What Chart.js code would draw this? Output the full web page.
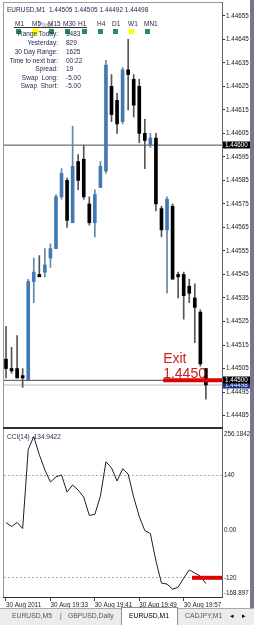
<!DOCTYPE html>
<html>
<head>
<meta charset="utf-8">
<title>EURUSD,M1</title>
<script src="https://cdn.jsdelivr.net/npm/chart.js@4.4.1/dist/chart.umd.min.js"></script>
<style>
  html, body { margin: 0; padding: 0; }
  body { width: 254px; height: 625px; overflow: hidden; position: relative; background: #fff;
         font-family: "Liberation Sans", Arial, sans-serif; color: #1e2448; }
  .a { position: absolute; white-space: nowrap; }
  .t { font-size: 6.5px; line-height: 7px; }
  .r { text-align: right; }
  .sq { position: absolute; width: 5px; height: 5px; top: 29px; background: #2e8b57; }
  .tab { position: absolute; top: 612px; font-size: 6.8px; line-height: 8px; color: #555; white-space: nowrap; }
</style>
</head>
<body>
<div class="a" style="left:0;top:0;width:254px;height:426px"><canvas id="priceChart"></canvas></div>
<div class="a" style="left:0;top:428px;width:254px;height:182px"><canvas id="cciChart"></canvas></div>

<!-- window frame -->
<div class="a" style="left:3px;top:2px;width:219px;height:1px;background:#9a9a9a"></div>
<div class="a" style="left:3px;top:2px;width:1px;height:596px;background:#9a9a9a"></div>
<div class="a" style="left:222px;top:2px;width:1px;height:596px;background:#5d6272"></div>
<div class="a" style="left:3px;top:427px;width:220px;height:2px;background:#303030"></div>
<div class="a" style="left:3px;top:597px;width:220px;height:1px;background:#303030"></div>
<div class="a" style="left:250px;top:0;width:4px;height:608px;background:#7b7390"></div>

<!-- header and info panel -->
<div class="a t" style="left:7px;top:6px">EURUSD,M1&nbsp; 1.44505 1.44505 1.44492 1.44498</div>
<div class="sq" style="left:16px"></div>
<div class="a" style="left:32px;top:28px;width:7px;height:7px;border-radius:50%;background:#ffff00"></div>
<div class="sq" style="left:49px"></div>
<div class="sq" style="left:65px"></div>
<div class="sq" style="left:82px"></div>
<div class="sq" style="left:98px"></div>
<div class="sq" style="left:113px"></div>
<div class="sq" style="left:129px;background:#ffff00"></div>
<div class="sq" style="left:145px"></div>
<div class="a" style="left:14px;top:27px;width:73px;height:1px;background:#333"></div>
<div class="a t" style="left:15px;top:20px">M1</div>
<div class="a t" style="left:32px;top:20px">M5</div>
<div class="a t" style="left:38px;top:21px;color:#8a8a8a">Pivot</div>
<div class="a t" style="left:48px;top:20px">M15</div>
<div class="a t" style="left:63px;top:20px">M30</div>
<div class="a t" style="left:78px;top:20px">H1</div>
<div class="a t" style="left:97px;top:20px">H4</div>
<div class="a t" style="left:112px;top:20px">D1</div>
<div class="a t" style="left:128px;top:20px">W1</div>
<div class="a t" style="left:144px;top:20px">MN1</div>

<div class="a t r" style="left:0;width:58px;top:29.5px">Range Today:</div>
<div class="a t r" style="left:0;width:58px;top:38.5px">Yesterday:</div>
<div class="a t r" style="left:0;width:58px;top:47.5px">30 Day Range:</div>
<div class="a t r" style="left:0;width:58px;top:56.5px">Time to next bar:</div>
<div class="a t r" style="left:0;width:58px;top:65px">Spread:</div>
<div class="a t r" style="left:0;width:58px;top:73.5px">Swap&nbsp; Long:</div>
<div class="a t r" style="left:0;width:58px;top:81.5px">Swap&nbsp; Short:</div>
<div class="a t" style="left:66px;top:29.5px">1483</div>
<div class="a t" style="left:66px;top:38.5px">829</div>
<div class="a t" style="left:66px;top:47.5px">1625</div>
<div class="a t" style="left:66px;top:56.5px">00:22</div>
<div class="a t" style="left:66px;top:65px">19</div>
<div class="a t" style="left:66px;top:73.5px">-5.00</div>
<div class="a t" style="left:66px;top:81.5px">-5.00</div>

<div class="a t" style="left:7px;top:433px">CCI(14) -134.9422</div>

<!-- tabs -->
<div class="a" style="left:0;top:608px;width:254px;height:17px;background:#ececec;border-top:1px solid #a8a8a8"></div>
<div class="a" style="left:121px;top:607px;width:55px;height:18px;background:#fff;border:1px solid #8c8c8c;border-bottom:none"></div>
<div class="tab" style="left:12px">EURUSD,M5</div>
<div class="tab" style="left:60px">|</div>
<div class="tab" style="left:68px">GBPUSD,Daily</div>
<div class="tab" style="left:129px;color:#000">EURUSD,M1</div>
<div class="tab" style="left:185px">CADJPY,M1</div>
<div class="tab" style="left:230px;color:#000">&#9666;</div>
<div class="tab" style="left:242px;color:#000">&#9656;</div>

<script>
// EURUSD M1 bars, 30 Aug 2011
const times = ['19:25','19:26','19:27','19:28','19:29','19:30','19:31','19:32','19:33','19:34',
  '19:35','19:36','19:37','19:38','19:39','19:40','19:41','19:42','19:43','19:44',
  '19:45','19:46','19:47','19:48','19:49','19:50','19:51','19:52','19:53','19:54',
  '19:55','19:56','19:57','19:58','19:59','20:00','20:01'];

const opens = [1.44509,1.44505,1.44505,1.44502,1.44500,1.44542,1.44545,1.44546,1.44552,1.44556,
  1.44578,1.44585,1.44567,1.44593,1.44594,1.44575,1.44567,1.44582,1.44589,1.44625,
  1.44619,1.44610,1.44632,1.44628,1.44625,1.44605,1.44600,1.44603,1.44573,1.44564,
  1.44574,1.44545,1.44545,1.44540,1.44535,1.44529,1.44505];
const highs = [1.44523,1.44514,1.44519,1.44505,1.44543,1.44552,1.44553,1.44556,1.44558,1.44579,
  1.44590,1.44586,1.44608,1.44596,1.44600,1.44578,1.44581,1.44593,1.44636,1.44630,
  1.44622,1.44633,1.44645,1.44630,1.44628,1.44611,1.44605,1.44605,1.44574,1.44578,
  1.44575,1.44546,1.44546,1.44543,1.44541,1.44530,1.44505];
const lows = [1.44501,1.44503,1.44501,1.44497,1.44500,1.44533,1.44544,1.44544,1.44548,1.44556,
  1.44577,1.44565,1.44567,1.44581,1.44577,1.44566,1.44561,1.44582,1.44588,1.44610,
  1.44605,1.44609,1.44615,1.44612,1.44601,1.44590,1.44599,1.44572,1.44561,1.44537,
  1.44543,1.44535,1.44526,1.44533,1.44516,1.44506,1.44492];
const closes = [1.44505,1.44504,1.44501,1.44501,1.44542,1.44546,1.44544,1.44549,1.44556,1.44578,
  1.44588,1.44568,1.44591,1.44585,1.44578,1.44567,1.44579,1.44591,1.44634,1.44613,
  1.44609,1.44632,1.44630,1.44617,1.44605,1.44602,1.44603,1.44575,1.44564,1.44577,
  1.44543,1.44544,1.44536,1.44537,1.44531,1.44507,1.44498];

// CCI(14) per bar
const cci = [20.8,10.6,20.8,5.4,206.2,239.6,193.3,154.7,123.8,136.7,
  141.8,98.1,116.1,103.2,85.2,38.9,41.4,87.8,175.3,159.8,
  126.4,157.3,144.0,85.0,36.0,0.3,-7.5,-77.0,-133.6,-136.0,
  -149.0,-144.0,-120.7,-100.0,-108.0,-115.6,-134.9];

const priceTicks = [1.44655,1.44645,1.44635,1.44625,1.44615,1.44605,1.44595,1.44585,1.44575,
  1.44565,1.44555,1.44545,1.44535,1.44525,1.44515,1.44505,1.44495,1.44485];
const timeTickIdx = [0, 8, 16, 24, 32];
const timeTickLabels = ['30 Aug 2011','30 Aug 19:33','30 Aug 19:41','30 Aug 19:49','30 Aug 19:57'];
const cciTicks = [256.1842, 140, 0, -120, -168.897];
const cciTickLabels = ['256.1842','140','0.00','-120','-168.897'];
const cciLevels = [140, -120];

// chart objects
const hLine = 1.44600;
const exitLevel = 1.44500;
const bid = 1.44498;
const exitFrom = 28.3;
const cciMark = -120;
const cciMarkFrom = 33.5;

// visible window
const xMin = -0.36, xMax = 38.9;
const priceMin = 1.44481, priceMax = 1.44660;

Chart.defaults.font.family = '"Liberation Sans", Arial, sans-serif';
Chart.defaults.font.size = 6.3;
Chart.defaults.color = '#222';

const bull = times.map((t, i) => closes[i] > opens[i]);
const wicks = times.map((t, i) => ({x: i, y: [lows[i], highs[i]]}));
const bodies = times.map((t, i) => ({x: i, y: [Math.min(opens[i], closes[i]), Math.max(opens[i], closes[i])]}));

function hseg(from, to, v) {
    return [{x: from, y: v}, {x: to, y: v}];
}

// price labels on the axis + Exit text
const priceMarks = {
    id: 'priceMarks',
    afterDraw(chart) {
        const {ctx, chartArea, scales} = chart;
        const y = scales.y;
        [[bid, '#1b2f86'], [exitLevel, '#000'], [hLine, '#000']].forEach(([v, bg]) => {
            const py = Math.round(y.getPixelForValue(v));
            ctx.fillStyle = bg;
            ctx.fillRect(chartArea.right + 1, py - 3.5, 27, 7);
            ctx.fillStyle = '#fff';
            ctx.font = '6.3px "Liberation Sans"';
            ctx.textBaseline = 'middle';
            ctx.textAlign = 'left';
            ctx.fillText(v.toFixed(5), chartArea.right + 3, py);
        });
        const px = scales.x.getPixelForValue(exitFrom);
        const ey = y.getPixelForValue(exitLevel);
        ctx.fillStyle = '#c8201e';
        ctx.font = '14px "Liberation Sans"';
        ctx.textBaseline = 'alphabetic';
        ctx.fillText('Exit', px, ey - 17);
        ctx.fillText(exitLevel.toFixed(4), px, ey - 2);
    }
};

new Chart(document.getElementById('priceChart'), {
    type: 'bar',
    data: {
        datasets: [
            {type: 'line', data: hseg(xMin, xMax, hLine), borderColor: '#4a4a4a', borderWidth: 1, pointRadius: 0, order: 6},
            {type: 'line', data: hseg(xMin, xMax, bid), borderColor: '#b8b8b8', borderWidth: 1, pointRadius: 0, order: 6},
            {type: 'line', data: hseg(xMin, xMax, exitLevel), borderColor: '#4a4a4a', borderWidth: 1, pointRadius: 0, order: 5},
            {data: wicks, backgroundColor: bull.map(b => b ? '#5f87b0' : '#555'), barThickness: 1, grouped: false, order: 3},
            {data: bodies, backgroundColor: bull.map(b => b ? '#4179b4' : '#000'), barThickness: 3, minBarLength: 1, grouped: false, order: 2},
            {type: 'line', data: hseg(exitFrom, xMax, exitLevel), borderColor: '#e00000', borderWidth: 4, pointRadius: 0, order: 1}
        ]
    },
    options: {
        responsive: true,
        maintainAspectRatio: false,
        animation: false,
        layout: {padding: {left: 4, top: 4, right: 0, bottom: 1}},
        plugins: {legend: {display: false}, tooltip: {enabled: false}},
        scales: {
            x: {type: 'linear', display: false, min: xMin, max: xMax, offset: false},
            y: {
                position: 'right',
                min: priceMin,
                max: priceMax,
                beginAtZero: false,
                afterBuildTicks: s => { s.ticks = priceTicks.map(v => ({value: v})); },
                afterFit: s => { s.width = 32; s.paddingTop = 0; s.paddingBottom = 0; },
                ticks: {autoSkip: false, padding: 1, callback: v => v.toFixed(5)},
                grid: {drawOnChartArea: false, tickLength: 3, tickColor: '#333'},
                border: {display: false}
            }
        }
    },
    plugins: [priceMarks]
});

new Chart(document.getElementById('cciChart'), {
    type: 'line',
    data: {
        datasets: [
            {data: cci.map((v, i) => ({x: i, y: v})), borderColor: '#1e1e1e', borderWidth: 1, pointRadius: 0, tension: 0, order: 2},
            {data: hseg(cciMarkFrom, xMax, cciMark), borderColor: '#e00000', borderWidth: 4, pointRadius: 0, order: 1}
        ]
    },
    options: {
        responsive: true,
        maintainAspectRatio: false,
        animation: false,
        layout: {padding: {left: 4, top: 2, right: 0, bottom: 0}},
        plugins: {legend: {display: false}, tooltip: {enabled: false}},
        scales: {
            x: {
                type: 'linear',
                min: xMin,
                max: xMax,
                offset: false,
                afterBuildTicks: s => { s.ticks = timeTickIdx.map(v => ({value: v})); },
                afterFit: s => { s.height = 13; s.paddingLeft = 0; s.paddingRight = 0; },
                ticks: {autoSkip: false, maxRotation: 0, align: 'start', padding: 0,
                        callback: v => timeTickLabels[timeTickIdx.indexOf(v)]},
                grid: {drawOnChartArea: false, tickLength: 4, tickColor: '#444'},
                border: {display: false}
            },
            y: {
                position: 'right',
                min: cciTicks[cciTicks.length - 1],
                max: cciTicks[0],
                afterBuildTicks: s => { s.ticks = cciTicks.map(v => ({value: v})); },
                afterFit: s => { s.width = 32; s.paddingTop = 0; s.paddingBottom = 0; },
                ticks: {
                    autoSkip: false,
                    padding: 2,
                    callback: v => {
                        const i = cciTicks.indexOf(v);
                        // keep first/last labels inside the panel
                        if (i === 0) return ['', cciTickLabels[i]];
                        if (i === cciTicks.length - 1) return [cciTickLabels[i], ''];
                        return cciTickLabels[i];
                    }
                },
                grid: {
                    drawTicks: false,
                    color: c => (c.tick && cciLevels.includes(c.tick.value)) ? '#b0b0b0' : 'transparent'
                },
                border: {display: false, dash: [2, 2]}
            }
        }
    }
});
</script>
</body>
</html>
